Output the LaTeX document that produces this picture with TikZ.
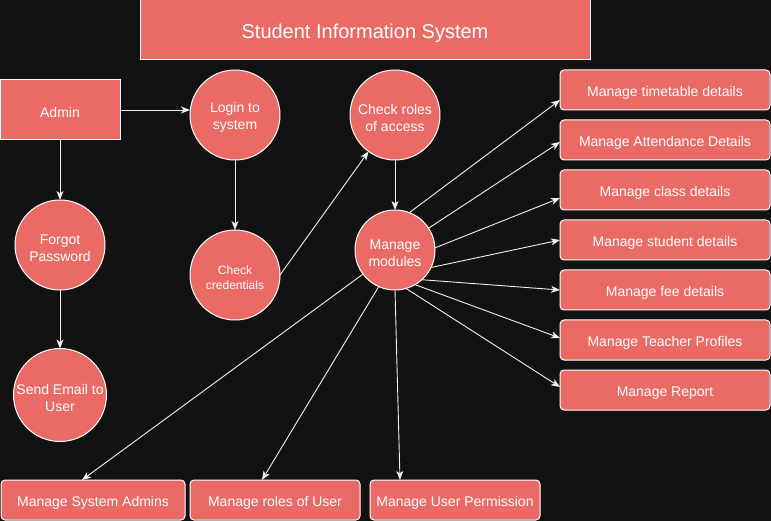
\documentclass[tikz,border=0pt]{standalone}
\usepackage{fontspec}
\setmainfont{Liberation Sans}
\usetikzlibrary{arrows.meta}
\definecolor{bg}{HTML}{121212}
\definecolor{boxfill}{HTML}{EA6B66}
\definecolor{edge}{HTML}{F0F0F0}
% invisible strut that lowers the first text line of a node a little
\newcommand\nodestrut{\rule{0pt}{1.1em}}

\begin{document}
\begin{tikzpicture}[x=1pt,y=-1pt,
  base/.style={draw=white, line width=1pt, fill=boxfill, text=white,
    inner sep=0pt, outer sep=0pt, align=center,
    font=\fontsize{14}{17}\selectfont},
  block/.style={base, rectangle, minimum width=120pt, minimum height=60pt},
  proc/.style={base, circle, minimum size=90pt},
  task/.style={base, rectangle, rounded corners=4pt, minimum height=40pt},
  sidetask/.style={task, minimum width=210pt},
  flow/.style={draw=edge, line width=0.9pt,
    -{Stealth[length=9pt,width=7pt,inset=2.5pt]}},
]
% canvas
\fill[bg] (0,0) rectangle (771,521);
\useasboundingbox (0,0) rectangle (771,521);

% header
\node[block, minimum width=450pt, font=\fontsize{20}{24}\selectfont]
  (title) at (365,30) {\nodestrut Student Information System};

% actor and processes
\node[block] (admin) at (60,110) {\nodestrut Admin};
\node[proc] (login) at (235,115) {\nodestrut Login to\\system};
\node[proc, font=\fontsize{12}{15}\selectfont] (cred) at (235,275) {\nodestrut Check\\credentials};
\node[proc] (roles) at (395,115) {\nodestrut Check roles\\of access};
\node[proc, minimum size=80pt] (mods) at (395,250) {\nodestrut Manage\\modules};
\node[proc] (forgot) at (60,245) {\nodestrut Forgot\\Password};
\node[proc] (email) at (60,395) {\nodestrut Send Email to\\User};

% modules on the right
\node[sidetask] (tt)   at (665,90)  {\nodestrut Manage timetable details};
\node[sidetask] (att)  at (665,140) {\nodestrut Manage Attendance Details};
\node[sidetask] (cls)  at (665,190) {\nodestrut Manage class details};
\node[sidetask] (stu)  at (665,240) {\nodestrut Manage student details};
\node[sidetask] (fee)  at (665,290) {\nodestrut Manage fee details};
\node[sidetask] (tch)  at (665,340) {\nodestrut Manage Teacher Profiles};
\node[sidetask] (rep)  at (665,390) {\nodestrut Manage Report};

% modules along the bottom
\node[task, minimum width=184pt] (sysadm) at (93,500)  {\nodestrut Manage System Admins};
\node[task, minimum width=170pt] (urole)  at (275,500) {\nodestrut Manage roles of User};
\node[task, minimum width=170pt] (uperm)  at (455,500) {\nodestrut Manage User Permission};

% login flow
\draw[flow] (admin.east) -- (admin.east -| login.west);
\draw[flow] (admin) -- (forgot);
\draw[flow] (forgot) -- (email);
\draw[flow] (login) -- (cred);
\draw[flow] (cred.east) -- (roles.234);
\draw[flow] (roles) -- (mods);

% module fan-out
\draw[flow] (mods.69)  -- ([yshift=-10pt]tt.west);
\draw[flow] (mods.33)  -- ([yshift=-2pt]att.west);
\draw[flow] (mods.3)   -- ([yshift=-8pt]cls.west);
\draw[flow] (mods.-26) -- (stu.west);
\draw[flow] (mods.-48) -- (fee.west);
\draw[flow] (mods.-60) -- ([yshift=2pt]tch.west);
\draw[flow] (mods.-74) -- ([yshift=3pt]rep.west);
\draw[flow] (mods.-90) -- ([xshift=-55pt]uperm.north);
\draw[flow] (mods.-114) -- ([xshift=-13pt]urole.north);
\draw[flow] (mods.-143) -- ([xshift=-11pt]sysadm.north);
\end{tikzpicture}
\end{document}
